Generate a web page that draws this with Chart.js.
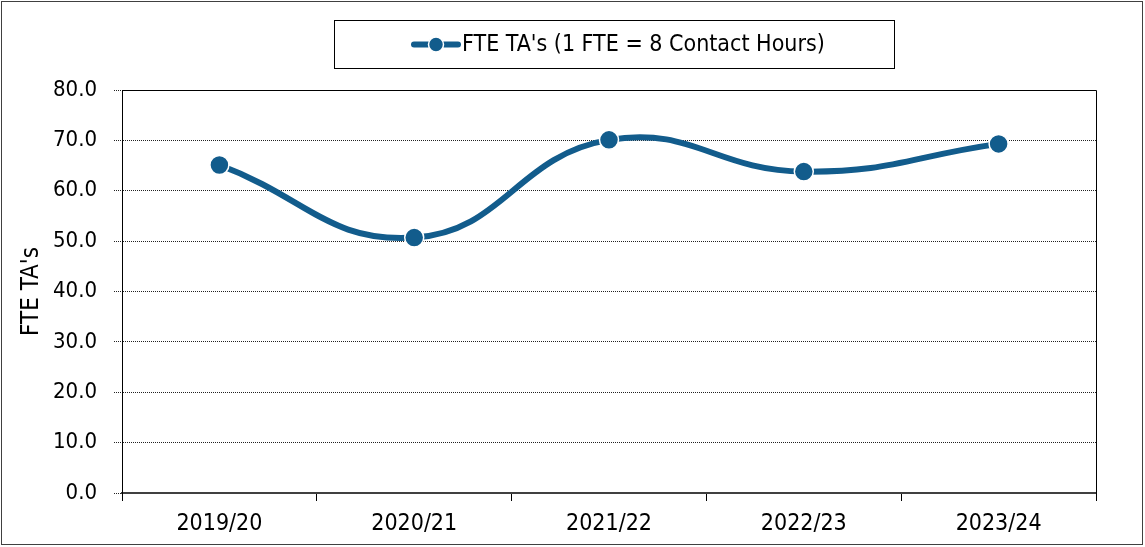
<!DOCTYPE html>
<html><head><meta charset="utf-8">
<script src="https://cdn.jsdelivr.net/npm/chart.js@4/dist/chart.umd.min.js"></script>
<style>html,body{margin:0;padding:0;background:#fff}#wrap{width:1145px;height:547px;position:relative}</style>
</head><body><div id="wrap"><canvas id="c" width="1145" height="547"></canvas></div>
<script>
const categories = ['2019/20','2020/21','2021/22','2022/23','2023/24'];
const fteValues = [65.1, 50.7, 70.1, 63.8, 69.3];
const seriesLabel = "FTE TA's (1 FTE = 8 Contact Hours)";
const yTitle = "FTE TA's";
const yMin = 0, yMax = 80, yStep = 10;

const FONT = '"Liberation Sans Narrow", "DejaVu Sans Condensed", "Roboto", sans-serif';
const LINE = '#125C8C';

const deco = {
  id: 'deco',
  afterDraw(chart) {
    const ctx = chart.ctx, a = chart.chartArea;
    ctx.save();
    ctx.strokeStyle = '#000'; ctx.lineWidth = 1;
    ctx.beginPath();
    ctx.moveTo(a.left, Math.round(a.top) + 0.5); ctx.lineTo(Math.round(a.right) + 0.5, Math.round(a.top) + 0.5);
    ctx.lineTo(Math.round(a.right) + 0.5, a.bottom + 7);
    ctx.stroke();
    ctx.strokeStyle = '#404040';
    ctx.strokeRect(1.5, 1.5, 1141, 543);
    ctx.strokeStyle = '#000';
    ctx.strokeRect(334.5, 20.5, 560, 48);
    ctx.strokeStyle = LINE; ctx.lineWidth = 6; ctx.lineCap = 'round';
    ctx.beginPath(); ctx.moveTo(414, 44.5); ctx.lineTo(458, 44.5); ctx.stroke();
    ctx.fillStyle = LINE; ctx.strokeStyle = '#fff'; ctx.lineWidth = 1.5;
    ctx.beginPath(); ctx.arc(436, 44.5, 7.5, 0, Math.PI * 2); ctx.fill(); ctx.stroke();
    ctx.fillStyle = '#000'; ctx.font = '23px ' + FONT;
    ctx.textBaseline = 'middle'; ctx.textAlign = 'left';
    ctx.fillText(seriesLabel, 462, 45);
    ctx.restore();
  }
};

new Chart(document.getElementById('c'), {
  type: 'line',
  data: {
    labels: categories,
    datasets: [{
      label: seriesLabel,
      data: fteValues,
      borderColor: LINE,
      backgroundColor: LINE,
      borderWidth: 6,
      tension: 0.45,
      pointRadius: 9.5,
      pointHoverRadius: 9.5,
      pointBackgroundColor: LINE,
      pointBorderColor: '#fff',
      pointBorderWidth: 1.5,
      clip: false
    }]
  },
  options: {
    responsive: false,
    animation: false,
    events: [],
    layout: { padding: { left: 0, right: 49, top: 90, bottom: 0 } },
    plugins: { legend: { display: false }, tooltip: { enabled: false } },
    scales: {
      x: {
        offset: true,
        afterFit(s) { s.height = 54; },
        grid: { offset: true, drawOnChartArea: false, drawTicks: true, tickLength: 8, color: '#000', tickColor: '#000' },
        border: { color: '#404040', width: 2 },
        ticks: { color: '#000', font: { family: FONT, size: 23 }, padding: 9, maxRotation: 0 }
      },
      y: {
        min: yMin, max: yMax,
        afterFit(s) { s.width = 122; },
        ticks: { stepSize: yStep, color: '#000', font: { family: FONT, size: 22 }, padding: 17,
                 callback: v => Number(v).toFixed(1) },
        grid: { color: '#222', lineWidth: 1, tickLength: 8, tickColor: '#222', tickBorderDash: [1, 1] },
        border: { color: '#000', width: 1, dash: [1, 1] },
        title: { display: true, text: yTitle, color: '#000', font: { family: FONT, size: 24 }, padding: { top: 17 } }
      }
    }
  },
  plugins: [deco]
});
</script></body></html>
